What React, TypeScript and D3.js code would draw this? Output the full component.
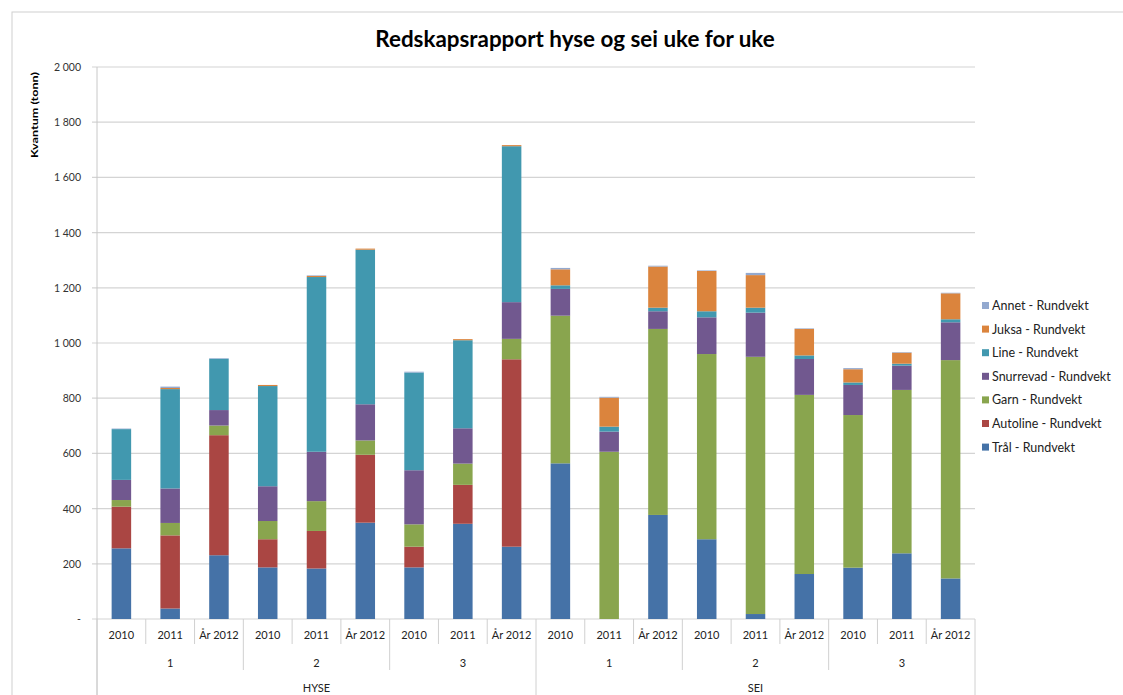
import React from "react";
import * as d3 from "d3";

const species = ["HYSE", "SEI"];
const weeks = ["1", "2", "3"];
const years = ["2010", "2011", "År 2012"];

const seriesNames = [
  "Trål - Rundvekt",
  "Autoline - Rundvekt",
  "Garn - Rundvekt",
  "Snurrevad - Rundvekt",
  "Line - Rundvekt",
  "Juksa - Rundvekt",
  "Annet - Rundvekt",
];
const colors = ["#4572A7", "#AA4643", "#89A54E", "#71588F", "#4198AF", "#DB843D", "#93A9CF"];

// 18 categories: HYSE wk1..3 x years, then SEI wk1..3 x years
const tral = [256, 38, 231, 187, 183, 349, 187, 345, 262, 564, 0, 377, 289, 18, 163, 186, 238, 147];
const autoline = [151, 265, 435, 102, 136, 246, 75, 141, 679, 0, 0, 0, 0, 0, 0, 0, 0, 0];
const garn = [24, 45, 35, 66, 108, 52, 81, 77, 74, 535, 606, 674, 671, 932, 649, 553, 592, 791];
const snurrevad = [73, 125, 56, 126, 179, 131, 196, 128, 133, 97, 73, 64, 133, 160, 130, 109, 88, 137];
const line = [184, 360, 186, 363, 633, 560, 354, 319, 565, 13, 18, 13, 22, 18, 13, 9, 7, 11];
const juksa = [0, 4, 0, 4, 4, 4, 0, 4, 4, 58, 105, 149, 146, 118, 96, 48, 40, 94];
const annet = [2, 5, 2, 0, 2, 0, 3, 0, 0, 5, 3, 3, 2, 8, 2, 4, 2, 2];

const yTicks = [0, 200, 400, 600, 800, 1000, 1200, 1400, 1600, 1800, 2000];

const font = "Lato, 'Open Sans', sans-serif";

export default function App() {
  const width = 1123;
  const height = 695;
  const left = 97;
  const right = 975;
  const top = 67;
  const bottom = 619;

  const cats = d3.range(species.length * weeks.length * years.length);
  const rows = cats.map((i) => ({
    i,
    v: [tral[i], autoline[i], garn[i], snurrevad[i], line[i], juksa[i], annet[i]],
  }));
  const stack = d3
    .stack<any, number>()
    .keys(d3.range(seriesNames.length))
    .value((d, k) => d.v[k]);
  const layers = stack(rows);

  const x = d3.scaleBand<number>().domain(cats).range([left, right]).paddingInner(0.6).paddingOuter(0.3);
  const y = d3.scaleLinear().domain([0, 2000]).range([bottom, top]);
  const step = x.step();
  const fmt = (v: number) => (v === 0 ? "-" : d3.format(",")(v).replace(",", " "));

  const edge = (i: number) => left + i * step;

  return (
    <svg width={width} height={height} style={{ position: "absolute", left: 0, top: 0, background: "#fff" }}>
      <rect x={12} y={12} width={1200} height={700} fill="none" stroke="#d0d0d0" />
      <text x={575} y={47} textAnchor="middle" fontFamily={font} fontWeight="bold" fontSize={22.4} fill="#000">
        Redskapsrapport hyse og sei uke for uke
      </text>
      <text
        transform={`translate(38,115) rotate(-90)`}
        textAnchor="middle"
        fontFamily={font}
        fontWeight="bold"
        fontSize={10}
        textLength={86}
        lengthAdjust="spacingAndGlyphs"
        fill="#000"
      >
        Kvantum (tonn)
      </text>

      {yTicks.map((t) => (
        <g key={t}>
          <line x1={92} x2={right} y1={y(t)} y2={y(t)} stroke="#d4d4d4" strokeWidth={1.2} />
          <text x={81} y={y(t) + 4} textAnchor="end" fontFamily={font} fontSize={10.5} fill="#333">
            {fmt(t)}
          </text>
        </g>
      ))}
      <line x1={left} x2={left} y1={top} y2={height} stroke="#c8c8c8" />

      {layers.map((layer, k) => (
        <g key={k} fill={colors[k]}>
          {layer.map((d, i) =>
            d[1] - d[0] > 0 ? (
              <rect key={i} x={x(i)} width={x.bandwidth()} y={y(d[1])} height={y(d[0]) - y(d[1])} />
            ) : null
          )}
        </g>
      ))}

      {/* multi-level category axis */}
      {cats.map((i) => (
        <g key={i}>
          <line x1={edge(i)} x2={edge(i)} y1={bottom} y2={i % 9 === 0 ? height : i % 3 === 0 ? 670 : 644} stroke="#d0d0d0" />
          <text x={edge(i) + step / 2} y={639} textAnchor="middle" fontFamily={font} fontSize={11} fill="#222">
            {years[i % 3]}
          </text>
        </g>
      ))}
      <line x1={right} x2={right} y1={bottom} y2={height} stroke="#d0d0d0" />
      {species.map((s, si) =>
        weeks.map((w, wi) => (
          <text
            key={s + w}
            x={edge(si * 9 + wi * 3) + step * 1.5}
            y={667}
            textAnchor="middle"
            fontFamily={font}
            fontSize={11}
            fill="#222"
          >
            {w}
          </text>
        ))
      )}
      {species.map((s, si) => (
        <text key={s} x={edge(si * 9) + step * 4.5} y={692} textAnchor="middle" fontFamily={font} fontSize={11} fill="#222">
          {s}
        </text>
      ))}

      {/* legend, reversed order */}
      {seriesNames
        .map((n, k) => ({ n, k }))
        .reverse()
        .map(({ n, k }, j) => (
          <g key={n} transform={`translate(982,${310 + j * 23.6})`}>
            <rect x={0} y={-8} width={7} height={7} fill={colors[k]} />
            <text x={10} y={0} fontFamily={font} fontSize={12.5} fill="#222">
              {n}
            </text>
          </g>
        ))}
    </svg>
  );
}
